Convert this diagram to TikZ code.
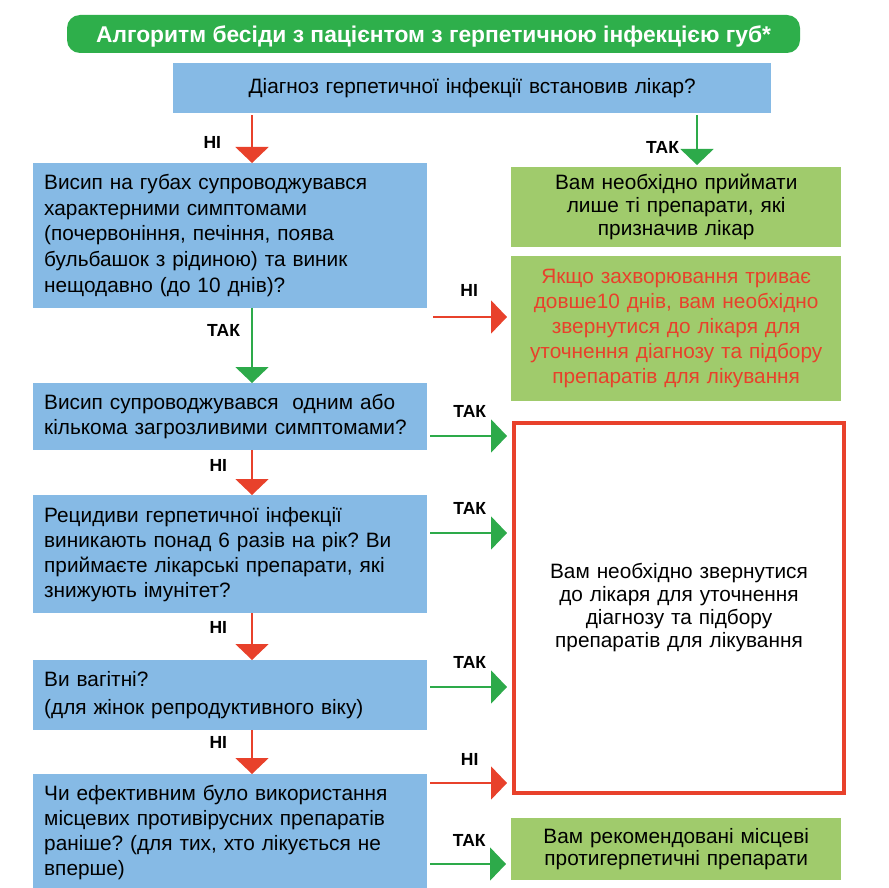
\documentclass[tikz,border=0pt]{standalone}
\usepackage{fontspec}
\setmainfont{Liberation Sans}
\usetikzlibrary{arrows.meta}
\frenchspacing
\definecolor{qblue}{HTML}{86BAE5}
\definecolor{tgreen}{HTML}{2EAF4B}
\definecolor{bgreen}{HTML}{A0CB6C}
\definecolor{nred}{HTML}{E8412B}
\definecolor{ygreen}{HTML}{2DAA4A}
\tikzset{
  qbox/.style={fill=qblue, anchor=north west, minimum width=394pt, text width=372pt,
    inner sep=11pt, align=left, font=\fontsize{20.8}{25}\selectfont},
  gbox/.style={fill=bgreen, anchor=north west, minimum width=330pt, text width=316pt,
    inner sep=7pt, align=center, font=\fontsize{20.8}{23}\selectfont},
  nline/.style={draw=nred, line width=2pt, -{Triangle[width=33pt,length=16pt]}},
  yline/.style={nline, draw=ygreen},
  lbl/.style={font=\bfseries\fontsize{17.5}{17.5}\selectfont, inner sep=0pt}
}

\begin{document}
\begin{tikzpicture}[x=1pt, y=-1pt]
  \useasboundingbox[fill=white] (0,0) rectangle (889,888);
  \node (T) [fill=tgreen, rounded corners=13pt, minimum width=733pt, minimum height=38pt, text depth=0pt,
    text=white, font=\bfseries\fontsize{22.8}{22.8}\selectfont] at (433.5,34) {Алгоритм бесіди з пацієнтом з герпетичною інфекцією губ*};
  \node (Q0) [qbox, minimum width=598pt, text width=576pt, minimum height=50pt, align=center] at (173,63) {Діагноз герпетичної інфекції встановив лікар?};
  \node (Q1) [qbox, minimum height=144pt, font=\fontsize{20.8}{25.7}\selectfont] at (33,163) {Висип на губах супроводжувався\\характерними симптомами\\(почервоніння, печіння, поява\\бульбашок з рідиною) та виник\\нещодавно (до 10 днів)?};
  \node (Q2) [qbox, minimum height=62pt] at (33,383) {Висип супроводжувався\ \ одним або\\кількома загрозливими симптомами?};
  \node (Q3) [qbox, minimum height=118pt] at (33,495) {Рецидиви герпетичної інфекції\\виникають понад 6 разів на рік? Ви\\приймаєте лікарські препарати, які\\знижують імунітет?};
  \node (Q4) [qbox, minimum height=65pt] at (33,660) {Ви вагітні?\\[3pt](для жінок репродуктивного віку)};
  \node (Q5) [qbox, minimum height=106pt] at (33,774) {Чи ефективним було використання\\місцевих противірусних препаратів\\раніше? (для тих, хто лікується не\\вперше)};
  \node (G1) [gbox, minimum height=80pt] at (511,167) {Вам необхідно приймати\\лише ті препарати, які\\призначив лікар};
  \node (G2) [gbox, minimum height=145pt, text=nred, font=\fontsize{20.8}{25}\selectfont] at (511,256) {Якщо захворювання триває\\довше10 днів, вам необхідно\\звернутися до лікаря для\\уточнення діагнозу та підбору\\препаратів для лікування};
  \node (R) [gbox, fill=white, draw=nred, line width=4pt, minimum width=329pt, minimum height=370pt] at (512,421) {Вам необхідно звернутися\\до лікаря для уточнення\\діагнозу та підбору\\препаратів для лікування};
  \node (G3) [gbox, minimum height=62pt, font=\fontsize{20.8}{22}\selectfont] at (511,818) {Вам рекомендовані місцеві\\протигерпетичні препарати};

  \coordinate (V) at (252,0);
  \coordinate (W) at (697,0);
  \coordinate (h1) at (0,317);
  \coordinate (h2) at (0,436);
  \coordinate (h3) at (0,533);
  \coordinate (h4) at (0,687);
  \coordinate (h5) at (0,783);
  \coordinate (h6) at (0,864);

  \draw[nline, shorten <=2pt] (Q0.south -| V) to node[lbl, pos=.58, left=30pt] {НІ} (Q1.north -| V);
  \draw[yline, shorten <=2pt, shorten >=2pt] (Q0.south -| W) to node[lbl, pos=.63, left=17pt] {ТАК} (G1.north -| W);
  \draw[yline] (Q1.south -| V) to node[lbl, pos=.30, left=11pt] {ТАК} (Q2.north -| V);
  \draw[nline] (Q2.south -| V) to node[lbl, pos=.34, left=24pt] {НІ} (Q3.north -| V);
  \draw[nline] (Q3.south -| V) to node[lbl, pos=.30, left=24pt] {НІ} (Q4.north -| V);
  \draw[nline] (Q4.south -| V) to node[lbl, pos=.29, left=24pt] {НІ} (Q5.north -| V);

  \draw[nline, shorten <=6pt, shorten >=4pt] (Q1.east |- h1) to node[lbl, above=20pt] {НІ} (G2.west |- h1);
  \draw[yline, shorten <=3pt, shorten >=5pt] (Q2.east |- h2) to node[lbl, above=18pt] {ТАК} (R.west |- h2);
  \draw[yline, shorten <=3pt, shorten >=5pt] (Q3.east |- h3) to node[lbl, above=18pt] {ТАК} (R.west |- h3);
  \draw[yline, shorten <=3pt, shorten >=5pt] (Q4.east |- h4) to node[lbl, above=18pt] {ТАК} (R.west |- h4);
  \draw[nline, shorten <=3pt, shorten >=5pt] (Q5.east |- h5) to node[lbl, above=17pt] {НІ} (R.west |- h5);
  \draw[yline, shorten <=3pt, shorten >=5pt] (Q5.east |- h6) to node[lbl, above=17pt] {ТАК} (G3.west |- h6);
\end{tikzpicture}
\end{document}
